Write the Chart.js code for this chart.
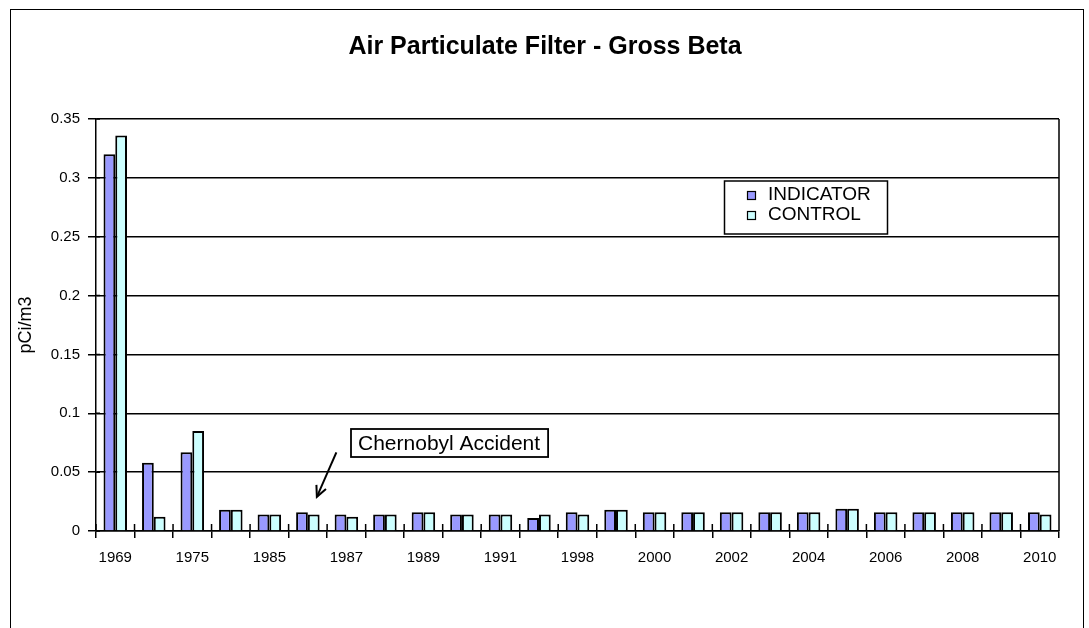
<!DOCTYPE html>
<html>
<head>
<meta charset="utf-8">
<script src="https://cdn.jsdelivr.net/npm/chart.js@4.4.1/dist/chart.umd.min.js"></script>
<style>
html,body{margin:0;padding:0;background:#fff;}
#wrap{width:1089px;height:628px;position:relative;overflow:hidden;}
canvas{display:block;}
</style>
</head>
<body>
<div id="wrap"><canvas id="c" width="1089" height="628"></canvas></div>
<script>
// ---- data ----
const categories = ['1969','1972','1975','1980','1985','1986','1987','1988','1989','1990','1991','1994','1998','1999','2000','2001','2002','2003','2004','2005','2006','2007','2008','2009','2010'];
const indicatorValues = [0.320,0.058,0.067,0.018,0.014,0.016,0.014,0.014,0.016,0.014,0.014,0.011,0.016,0.018,0.016,0.016,0.016,0.016,0.016,0.019,0.016,0.016,0.016,0.016,0.016];
const controlValues   = [0.336,0.012,0.085,0.018,0.014,0.014,0.012,0.014,0.016,0.014,0.014,0.014,0.014,0.018,0.016,0.016,0.016,0.016,0.016,0.019,0.016,0.016,0.016,0.016,0.014];
const seriesNames = ['INDICATOR','CONTROL'];
const yMin = 0, yMax = 0.35, yStep = 0.05;
const titleText = 'Air Particulate Filter - Gross Beta';
const yAxisTitle = 'pCi/m3';
const annotationText = 'Chernobyl Accident';
const annotationCategoryIndex = 5; // 1986

const FONT = "'Liberation Sans', Arial, sans-serif";

const framePlugin = {
  id: 'frame',
  beforeDraw(chart) {
    const ctx = chart.ctx;
    ctx.save();
    ctx.fillStyle = '#fff';
    ctx.fillRect(0, 0, chart.width, chart.height);
    ctx.strokeStyle = '#000';
    ctx.lineWidth = 1;
    ctx.strokeRect(10.5, 9.5, 1073, 700);
    // chart title
    ctx.fillStyle = '#000';
    ctx.font = 'bold 25px ' + FONT;
    ctx.textAlign = 'center';
    ctx.textBaseline = 'middle';
    ctx.fillText(titleText, 545, 47);
    ctx.restore();
  },
  beforeDatasetsDraw(chart) {
    const ctx = chart.ctx, a = chart.chartArea;
    const xs = chart.scales.x, ys = chart.scales.y;
    ctx.save();
    ctx.strokeStyle = '#000';
    ctx.lineWidth = 1.5;
    ctx.beginPath();
    ctx.moveTo(a.right, a.top);
    ctx.lineTo(a.right, a.bottom);
    // x tick marks crossing above the axis
    for (let i = 0; i <= categories.length; i++) {
      const px = xs.getPixelForValue(i - 0.5);
      ctx.moveTo(px, a.bottom);
      ctx.lineTo(px, a.bottom - 7);
    }
    // y tick marks crossing right of the axis
    for (let v = yMin; v <= yMax + 1e-9; v += yStep) {
      const py = ys.getPixelForValue(v);
      ctx.moveTo(a.left, py);
      ctx.lineTo(a.left + 4, py);
    }
    ctx.stroke();
    ctx.restore();
  }
};

const legendBoxPlugin = {
  id: 'legendBox',
  afterDraw(chart) {
    const ctx = chart.ctx;
    const bx = 724.5, by = 181, bw = 163, bh = 53;
    ctx.save();
    ctx.fillStyle = '#fff';
    ctx.fillRect(bx, by, bw, bh);
    ctx.strokeStyle = '#000';
    ctx.lineWidth = 1.5;
    ctx.strokeRect(bx, by, bw, bh);
    ctx.font = '19px ' + FONT;
    ctx.textBaseline = 'middle';
    ctx.textAlign = 'left';
    chart.data.datasets.forEach((ds, i) => {
      const cy = by + 14 + i * 20;
      ctx.fillStyle = ds.backgroundColor;
      ctx.fillRect(747, cy - 4, 8, 8);
      ctx.strokeStyle = '#000';
      ctx.lineWidth = 1.2;
      ctx.strokeRect(747.5, cy - 3.5, 8, 8);
      ctx.fillStyle = '#000';
      ctx.fillText(ds.label, 768, cy);
    });
    ctx.restore();
  }
};

const annotationPlugin = {
  id: 'chernobyl',
  afterDraw(chart) {
    const ctx = chart.ctx;
    const xs = chart.scales.x, ys = chart.scales.y;
    ctx.save();
    ctx.font = '21px ' + FONT;
    const tw = ctx.measureText(annotationText).width;
    const bx = 351, by = 429, bh = 28, bw = tw + 15;
    ctx.fillStyle = '#fff';
    ctx.fillRect(bx, by, bw, bh);
    ctx.strokeStyle = '#000';
    ctx.lineWidth = 1.8;
    ctx.strokeRect(bx, by, bw, bh);
    ctx.fillStyle = '#000';
    ctx.textBaseline = 'middle';
    ctx.fillText(annotationText, bx + 7, by + bh / 2 + 1);
    // arrow
    const tipX = xs.getPixelForValue(annotationCategoryIndex) + 9;
    const tipY = ys.getPixelForValue(0.029);
    const sx = tipX + 19.5, sy = tipY - 44.5;
    ctx.lineWidth = 2;
    ctx.beginPath();
    ctx.moveTo(sx, sy);
    ctx.lineTo(tipX, tipY);
    ctx.stroke();
    const ang = Math.atan2(tipY - sy, tipX - sx);
    const hl = 12;
    ctx.beginPath();
    ctx.moveTo(tipX - hl * Math.cos(ang - 0.45), tipY - hl * Math.sin(ang - 0.45));
    ctx.lineTo(tipX, tipY);
    ctx.lineTo(tipX - hl * Math.cos(ang + 0.45), tipY - hl * Math.sin(ang + 0.45));
    ctx.stroke();
    ctx.restore();
  }
};

new Chart(document.getElementById('c'), {
  type: 'bar',
  data: {
    labels: categories,
    datasets: [
      { label: seriesNames[0], data: indicatorValues, backgroundColor: '#9999FF', borderColor: '#000', borderWidth: 2, barPercentage: 1, categoryPercentage: 0.61 },
      { label: seriesNames[1], data: controlValues, backgroundColor: '#CCFFFF', borderColor: '#000', borderWidth: 2, barPercentage: 1, categoryPercentage: 0.61 }
    ]
  },
  options: {
    responsive: false,
    devicePixelRatio: 1,
    animation: false,
    layout: { padding: { left: 11, right: 30, top: 119, bottom: 0 } },
    plugins: {
      legend: { display: false },
      tooltip: { enabled: false },
      title: { display: false }
    },
    scales: {
      x: {
        offset: true,
        grid: { offset: true, drawOnChartArea: false, drawTicks: true, tickLength: 7, color: '#000', lineWidth: 1.5 },
        border: { display: true, color: '#000', width: 1.5 },
        ticks: {
          autoSkip: false, maxRotation: 0, minRotation: 0, padding: 11, color: '#000',
          font: { family: FONT, size: 15 },
          callback: (v, i) => (i % 2 === 0 ? categories[i] : '')
        },
        afterFit: s => { s.height = 97; }
      },
      y: {
        min: yMin, max: yMax,
        ticks: {
          stepSize: yStep, padding: 8, color: '#000',
          font: { family: FONT, size: 15 },
          callback: v => String(Math.round(v * 100) / 100)
        },
        grid: { color: '#000', lineWidth: 1.5, tickLength: 8 },
        border: { display: true, color: '#000', width: 1.5 },
        title: { display: true, text: yAxisTitle, color: '#000', font: { family: FONT, size: 18 }, padding: { top: 4, bottom: 4 } },
        afterFit: s => { s.width = 85; }
      }
    }
  },
  plugins: [framePlugin, legendBoxPlugin, annotationPlugin]
});
</script>
</body>
</html>
